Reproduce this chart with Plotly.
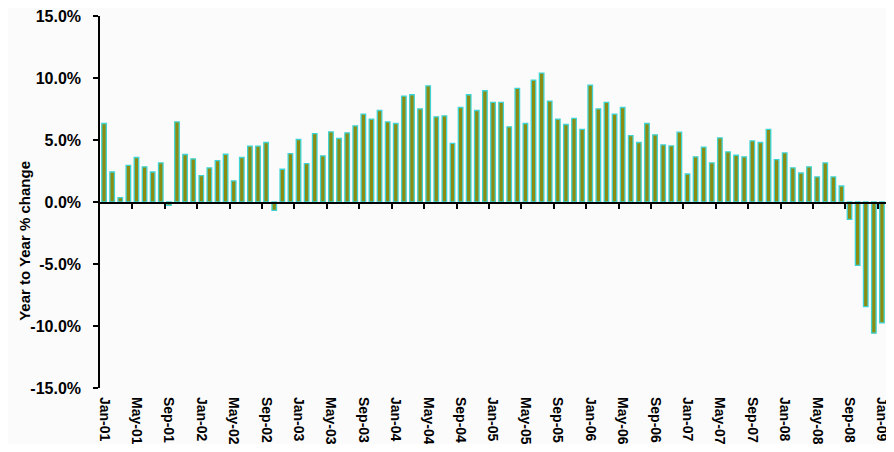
import plotly.graph_objects as go

months = []
for yr in range(1, 10):
    for m in ["Jan", "Feb", "Mar", "Apr", "May", "Jun", "Jul", "Aug", "Sep", "Oct", "Nov", "Dec"]:
        months.append(f"{m}-{yr:02d}")
months = months[:97]  # Jan-01 .. Jan-09

yoy_change = [
    6.33, 2.42, 0.35, 2.96, 3.59, 2.83, 2.42, 3.15, -0.27, 6.46, 3.83, 3.48,   # 2001
    2.13, 2.75, 3.34, 3.85, 1.70, 3.59, 4.50, 4.50, 4.80, -0.67, 2.64, 3.90,   # 2002
    5.04, 3.10, 5.52, 3.72, 5.66, 5.12, 5.58, 6.14, 7.08, 6.68, 7.38, 6.46,    # 2003
    6.33, 8.54, 8.65, 7.51, 9.37, 6.87, 6.95, 4.72, 7.62, 8.65, 7.38, 8.97,    # 2004
    8.03, 8.03, 6.06, 9.16, 6.33, 9.83, 10.40, 8.13, 6.68, 6.25, 6.74, 5.85,   # 2005
    9.43, 7.51, 8.03, 7.08, 7.62, 5.36, 4.80, 6.33, 5.41, 4.60, 4.52, 5.63,    # 2006
    2.26, 3.64, 4.42, 3.15, 5.17, 4.04, 3.77, 3.64, 4.93, 4.80, 5.85, 3.42,    # 2007
    3.96, 2.75, 2.34, 2.83, 2.02, 3.15, 2.02, 1.29, -1.40, -5.11, -8.43, -10.58,  # 2008
    -9.74,                                                                     # 2009
]

y_tick_vals = [-15, -10, -5, 0, 5, 10, 15]
y_tick_text = ["-15.0%", "-10.0%", "-5.0%", "0.0%", "5.0%", "10.0%", "15.0%"]
x_tick_labels = months[::4]
y_title = "Year to Year % change"

n = len(months)
idx = list(range(n))
boundary_ticks = [i - 0.5 for i in range(4, n, 4)]

FONT = "Arial, Liberation Sans, sans-serif"

fig = go.Figure()
fig.add_trace(go.Bar(
    x=months, y=yoy_change,
    width=0.56,
    marker=dict(color="#8c8c12", line=dict(color="#3fd3d3", width=1.3)),
    showlegend=False, hoverinfo="x+y",
))
# invisible helper trace on the upper-half subplot whose x-axis sits on the zero level
fig.add_trace(go.Scatter(
    x=idx, y=[max(v, 0) for v in yoy_change], xaxis="x2", yaxis="y2",
    mode="markers", marker=dict(opacity=0, size=1),
    showlegend=False, hoverinfo="skip",
))

fig.update_layout(
    width=878, height=436,
    margin=dict(l=92, r=0, t=8, b=56, autoexpand=False),
    paper_bgcolor="#fbfbfb", plot_bgcolor="rgba(0,0,0,0)",
    xaxis=dict(
        type="category", categoryorder="array", categoryarray=months,
        range=[-0.5, n - 0.5], automargin=False,
        tickmode="array", tickvals=x_tick_labels, ticktext=x_tick_labels,
        tickangle=90, ticks="", showline=False, showgrid=False, zeroline=False,
        tickfont=dict(family=FONT, size=14, color="#000000", weight="bold"),
        ticklabelstandoff=8,
    ),
    xaxis2=dict(
        anchor="y2", range=[-0.5, n - 0.5], type="linear", automargin=False,
        tickmode="array", tickvals=boundary_ticks,
        showticklabels=False, ticks="outside", ticklen=5, tickwidth=1.5, tickcolor="#000000",
        showline=True, linewidth=2, linecolor="#000000",
        showgrid=False, zeroline=False, layer="above traces",
    ),
    yaxis2=dict(
        domain=[0.5, 1], range=[0, 15], anchor="x2", visible=False,
        showgrid=False, zeroline=False, automargin=False,
    ),
    yaxis=dict(
        range=[-15, 15], tickmode="array", tickvals=y_tick_vals, ticktext=y_tick_text,
        ticks="outside", ticklen=5, tickwidth=1.5, tickcolor="#000000",
        showline=True, linewidth=1.5, linecolor="#000000",
        showgrid=False, zeroline=False, automargin=False,
        tickfont=dict(family=FONT, size=16, color="#000000", weight="bold"),
        ticklabelstandoff=9, ticklabeloverflow="allow",
    ),
    annotations=[dict(
        text=y_title, textangle=-90, xref="paper", yref="paper",
        x=-0.097, y=0.395, xanchor="center", yanchor="middle", showarrow=False,
        font=dict(family=FONT, size=15, color="#000000", weight="bold"),
    )],
)

fig.write_html("out.html")
